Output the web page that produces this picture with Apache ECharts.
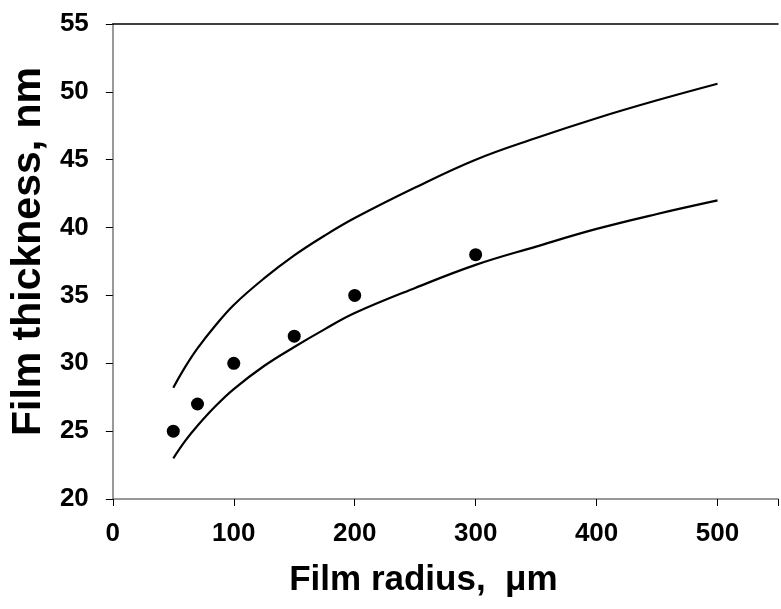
<!DOCTYPE html>
<html>
<head>
<meta charset="utf-8">
<script src="https://cdn.jsdelivr.net/npm/echarts@6/dist/echarts.min.js"></script>
<style>
html,body{margin:0;padding:0;background:#fff;}
#chart{width:781px;height:609px;}
</style>
</head>
<body>
<div id="chart"></div>
<script>
// Measured points (film radius µm, film thickness nm)
const measuredRadius = [50, 70, 100, 150, 200, 300];
const measuredThickness = [25, 27, 30, 32, 35, 38];

// Theoretical curves
const curveRadius = [50, 60, 70, 85, 100, 125, 150, 175, 200, 250, 300, 350, 400, 450, 500];
const upperThickness = [28.2, 29.75, 31.1, 32.8, 34.3, 36.25, 37.95, 39.4, 40.7, 42.95, 45.0, 46.6, 48.06, 49.38, 50.6];
const lowerThickness = [23.0, 24.3, 25.4, 26.85, 28.1, 29.8, 31.2, 32.5, 33.7, 35.55, 37.25, 38.6, 39.9, 41.0, 42.0];

const xTicks = [0, 100, 200, 300, 400, 500];
const yTicks = [20, 25, 30, 35, 40, 45, 50, 55];

const pairs = (xs, ys) => xs.map((x, i) => [x, ys[i]]);
const FONT = '"Liberation Sans", Arial, sans-serif';

const chart = echarts.init(document.getElementById('chart'), null, {renderer: 'canvas'});
chart.setOption({
  animation: false,
  backgroundColor: '#ffffff',
  grid: {left: 112, right: -9, top: 24, bottom: 110, containLabel: false},
  xAxis: [{
    type: 'value',
    min: 0, max: 550, interval: 100,
    name: 'Film radius,  \u03bcm',
    nameLocation: 'middle',
    nameGap: 64,
    nameTextStyle: {fontFamily: FONT, fontWeight: 'bold', fontSize: 35, color: '#000', padding: [0, 44, 0, 0]},
    axisLine: {show: true, lineStyle: {color: '#777', width: 1.5}},
    axisTick: {show: true, inside: false, length: 7, lineStyle: {color: '#000', width: 1}},
    axisLabel: {
      fontFamily: FONT, fontWeight: 'bold', fontSize: 26, color: '#000', margin: 22,
      formatter: v => xTicks.includes(v) ? String(v) : ''
    },
    splitLine: {show: false}
  }, {
    type: 'value', position: 'top', min: 0, max: 550,
    axisLine: {show: true, lineStyle: {color: '#000', width: 1.5}},
    axisTick: {show: false}, axisLabel: {show: false}, splitLine: {show: false}
  }],
  yAxis: {
    type: 'value',
    min: 20, max: 55, interval: 5,
    name: 'Film thickness, nm',
    nameLocation: 'middle',
    nameGap: 56,
    nameTextStyle: {fontFamily: FONT, fontWeight: 'bold', fontSize: 41, color: '#000', padding: [0, 0, 0, 20]},
    axisLine: {show: true, lineStyle: {color: '#777', width: 1.5}},
    axisTick: {show: true, inside: false, length: 7, lineStyle: {color: '#000', width: 1}},
    axisLabel: {
      fontFamily: FONT, fontWeight: 'bold', fontSize: 26, color: '#000', margin: 24,
      formatter: v => yTicks.includes(v) ? String(v) : ''
    },
    splitLine: {show: false}
  },
  series: [
    {
      type: 'line', data: pairs(curveRadius, upperThickness), smooth: 0.4,
      showSymbol: false, lineStyle: {color: '#000', width: 2.2}
    },
    {
      type: 'line', data: pairs(curveRadius, lowerThickness), smooth: 0.4,
      showSymbol: false, lineStyle: {color: '#000', width: 2.2}
    },
    {
      type: 'scatter', data: pairs(measuredRadius, measuredThickness),
      symbol: 'circle', symbolSize: 13, itemStyle: {color: '#000', opacity: 1}
    }
  ]
});
</script>
</body>
</html>
